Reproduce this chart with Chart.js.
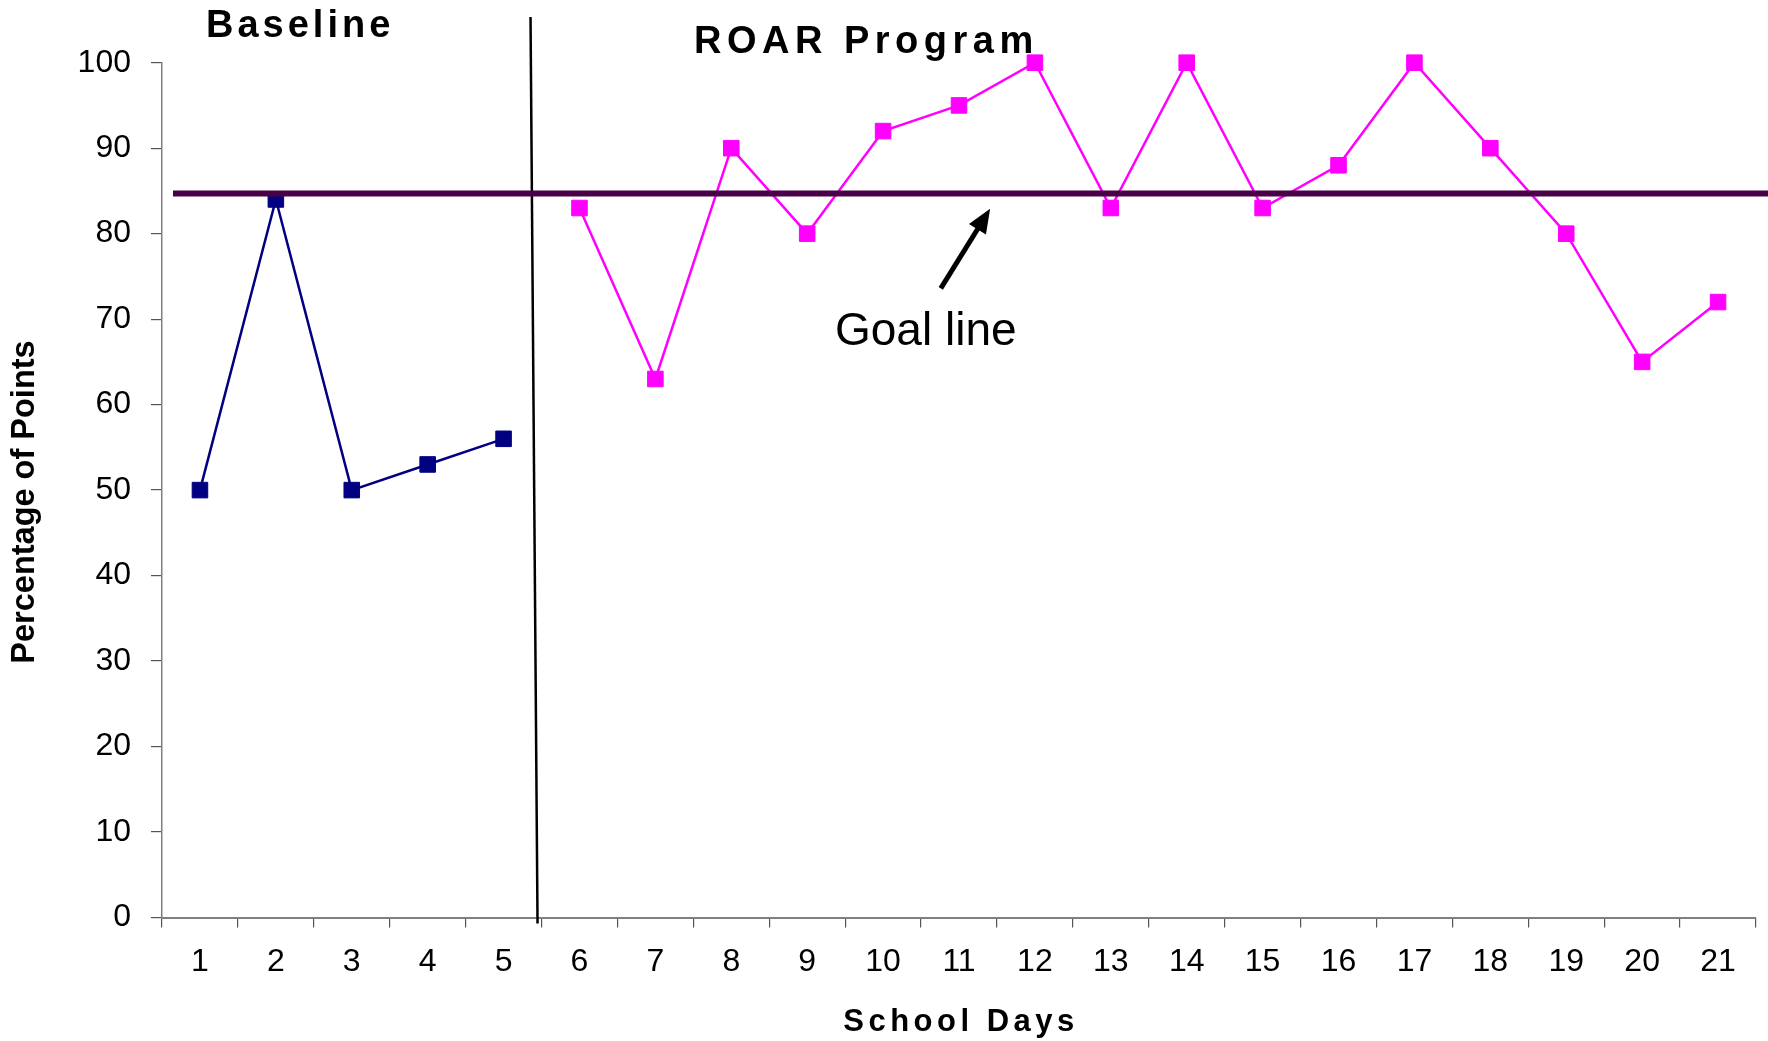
<!DOCTYPE html>
<html>
<head>
<meta charset="utf-8">
<script src="https://cdn.jsdelivr.net/npm/chart.js@4/dist/chart.umd.min.js"></script>
<style>
    body { margin: 0; background: #fff; }
    #wrap { width: 1768px; height: 1041px; }
</style>
</head>
<body>
<div id="wrap"><canvas id="chart" width="1768" height="1041"></canvas></div>
<script>
// Data
const days = ['1', '2', '3', '4', '5', '6', '7', '8', '9', '10', '11',
              '12', '13', '14', '15', '16', '17', '18', '19', '20', '21'];
const baseline = [50, 84, 50, 53, 56, null, null, null, null, null, null,
                  null, null, null, null, null, null, null, null, null, null];
const roar = [null, null, null, null, null, 83, 63, 90, 80, 92, 95,
              100, 83, 100, 83, 88, 100, 90, 80, 65, 72];
const goal = 84.7;
const yTicks = [0, 10, 20, 30, 40, 50, 60, 70, 80, 90, 100];

const FONT = '"Liberation Sans", Arial, sans-serif';

// Goal line, phase line and text labels
const annotations = {
    id: 'annotations',
    afterDatasetsDraw(chart) {
        const ctx = chart.ctx;
        const x = chart.scales.x;
        const y = chart.scales.y;
        const area = chart.chartArea;

        ctx.save();

        // phase change line between day 5 and day 6
        const bx = (x.getPixelForValue(4) + x.getPixelForValue(5)) / 2;
        ctx.strokeStyle = '#000';
        ctx.lineWidth = 2.5;
        ctx.beginPath();
        ctx.moveTo(bx - 11, 17);
        ctx.lineTo(bx - 4, area.bottom + 6);
        ctx.stroke();

        // goal line
        const gy = y.getPixelForValue(goal);
        ctx.strokeStyle = '#4a0046';
        ctx.lineWidth = 6;
        ctx.beginPath();
        ctx.moveTo(area.left + 11, gy);
        ctx.lineTo(chart.width, gy);
        ctx.stroke();

        // arrow pointing at goal line
        const step = x.getPixelForValue(1) - x.getPixelForValue(0);
        const tx = x.getPixelForValue(9) + step * 0.76, ty = y.getPixelForValue(73.6);
        const hx = x.getPixelForValue(10) + step * 0.41, hy = y.getPixelForValue(82.9);
        const ang = Math.atan2(hy - ty, hx - tx);
        ctx.strokeStyle = '#000';
        ctx.fillStyle = '#000';
        ctx.lineWidth = 5;
        ctx.beginPath();
        ctx.moveTo(tx, ty);
        ctx.lineTo(hx - 16 * Math.cos(ang), hy - 16 * Math.sin(ang));
        ctx.stroke();
        ctx.beginPath();
        ctx.moveTo(hx, hy);
        ctx.lineTo(hx - 24 * Math.cos(ang) + 10 * Math.sin(ang), hy - 24 * Math.sin(ang) - 10 * Math.cos(ang));
        ctx.lineTo(hx - 24 * Math.cos(ang) - 10 * Math.sin(ang), hy - 24 * Math.sin(ang) + 10 * Math.cos(ang));
        ctx.closePath();
        ctx.fill();

        // texts
        ctx.fillStyle = '#000';
        ctx.textBaseline = 'alphabetic';
        ctx.textAlign = 'left';
        ctx.font = '46px ' + FONT;
        ctx.fillText('Goal line', 835, 345);

        ctx.font = 'bold 38px ' + FONT;
        ctx.letterSpacing = '4px';
        ctx.fillText('Baseline', 206, 37);
        ctx.letterSpacing = '5.5px';
        ctx.fillText('ROAR Program', 694, 53);

        ctx.font = 'bold 31px ' + FONT;
        ctx.letterSpacing = '4.5px';
        ctx.textAlign = 'center';
        ctx.fillText('School Days', (area.left + area.right) / 2 + 2, 1031);

        ctx.letterSpacing = '0px';
        ctx.translate(25, 502);
        ctx.rotate(-Math.PI / 2);
        ctx.textBaseline = 'middle';
        ctx.font = 'bold 32.5px ' + FONT;
        ctx.fillText('Percentage of Points', 0, 0);

        ctx.restore();
    }
};

new Chart(document.getElementById('chart'), {
    type: 'line',
    data: {
        labels: days,
        datasets: [{
            label: 'Baseline',
            data: baseline,
            borderColor: '#000080',
            backgroundColor: '#000080',
            borderWidth: 2.5,
            pointStyle: 'rect',
            pointRadius: 11,
            pointBorderWidth: 1,
            tension: 0,
            clip: false
        }, {
            label: 'ROAR Program',
            data: roar,
            borderColor: '#ff00ff',
            backgroundColor: '#ff00ff',
            borderWidth: 2.5,
            pointStyle: 'rect',
            pointRadius: 11,
            pointBorderWidth: 1,
            tension: 0,
            clip: false
        }]
    },
    options: {
        responsive: false,
        animation: false,
        devicePixelRatio: 1,
        layout: { padding: { top: 62.7, right: 8, left: 50, bottom: 0 } },
        plugins: {
            legend: { display: false },
            tooltip: { enabled: false }
        },
        scales: {
            x: {
                offset: true,
                grid: { offset: true, drawOnChartArea: false, tickLength: 10, color: '#555', lineWidth: 1.2 },
                border: { color: '#808080', width: 2 },
                ticks: { color: '#000', font: { family: FONT, size: 32 }, padding: 15, maxRotation: 0, autoSkip: false },
                afterFit: s => { s.height = 1041 - 917.5; }
            },
            y: {
                min: 0,
                max: 100,
                afterBuildTicks: s => { s.ticks = yTicks.map(v => ({ value: v })); },
                grid: { drawOnChartArea: false, tickLength: 11, color: '#555', lineWidth: 1.2 },
                border: { color: '#808080', width: 1.5 },
                ticks: { color: '#000', font: { family: FONT, size: 32 }, padding: 20 },
                afterFit: s => { s.width = 162 - 50; }
            }
        }
    },
    plugins: [annotations]
});
</script>
</body>
</html>
